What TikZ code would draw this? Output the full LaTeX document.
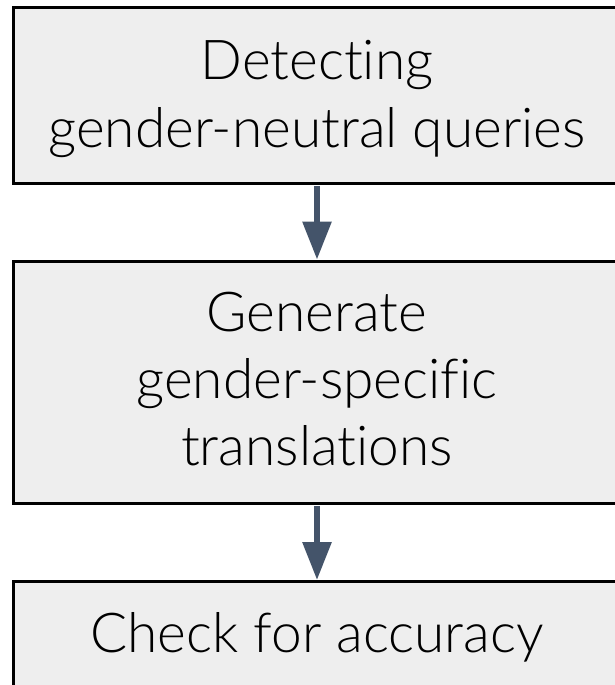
\documentclass[tikz,border=0pt]{standalone}
\usepackage{fontspec}
\setmainfont{Lato Light}[Ligatures=NoCommon]
\usetikzlibrary{arrows.meta}
\definecolor{boxfill}{HTML}{EEEEEE}
\definecolor{flowarrow}{HTML}{44546A}
\tikzset{
  stepbox/.style={draw=black, fill=boxfill, line width=3pt, rectangle,
    inner sep=0pt, anchor=north west},
  steptext/.style={font=\fontsize{55}{67}\selectfont, anchor=base,
    inner sep=0pt, text=black},
  flow/.style={draw=flowarrow, line width=6pt,
    -{Triangle[width=28pt,length=38pt]}, shorten <=1.5pt}
}
\begin{document}
\begin{tikzpicture}[x=1pt, y=-1pt]
  \useasboundingbox (0,0) rectangle (615,685);
  \clip (0,0) rectangle (615,685);
  % process boxes (they run past the right and bottom edges)
  \node[stepbox, minimum width=640pt, minimum height=175pt] (b1) at (12,6.5) {};
  \node[stepbox, minimum width=640pt, minimum height=242pt] (b2) at (12,259.5) {};
  \node[stepbox, minimum width=640pt, minimum height=160pt] (b3) at (12,580) {};
  % centre line shared by the text and the arrows
  \coordinate (axis) at (317,0);
  % step labels
  \node[steptext] (t1a) at (317,79.3) {Detecting};
  \node[steptext] (t1b) at (317,147) {gender-neutral queries};
  \node[steptext] (t2a) at (317,331.7) {Generate};
  \node[steptext] (t2b) at (317,398.3) {gender-specific};
  \node[steptext] (t2c) at (317,465) {translations};
  \node[steptext] (t3a) at (317,652.3) {Check for accuracy};
  % arrows between the steps
  \draw[flow] (b1.south -| axis) -- (b2.north -| axis);
  \draw[flow] (b2.south -| axis) -- (b3.north -| axis);
\end{tikzpicture}
\end{document}
